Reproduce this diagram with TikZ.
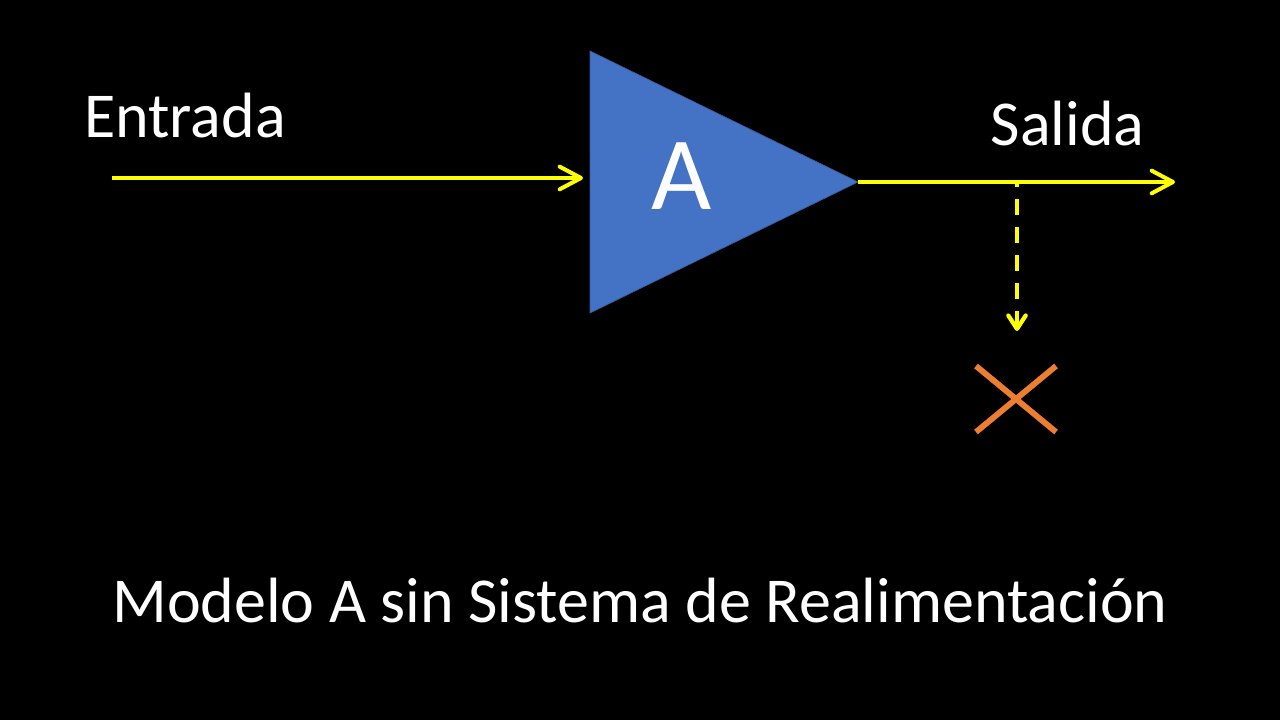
\documentclass[tikz,border=0pt]{standalone}
\usepackage{fontspec}
\setmainfont{Carlito}
\usetikzlibrary{calc}
\usetikzlibrary{arrows.meta}
\definecolor{ampblue}{RGB}{68,114,196}
\definecolor{crossorange}{RGB}{237,125,49}
\definecolor{signalyellow}{RGB}{255,255,0}
\tikzset{
  signal/.style={signalyellow, line width=3pt, -{Straight Barb[length=16pt, width=17pt, line width=3pt, round]}},
  tapped/.style={signalyellow, line width=3pt, dash pattern=on 12pt off 9pt, dash phase=8pt, -{Straight Barb[length=10pt, width=13pt, line width=3.2pt, round]}},
  lbl/.style={white, inner sep=0pt},
}
\begin{document}
\begin{tikzpicture}[x=.75pt, y=-.75pt]
\fill[black] (0,0) rectangle (1280,720);
\useasboundingbox (0,0) rectangle (1280,720);

\coordinate (top) at (590,51);
\coordinate (bot) at (590,313);
\coordinate (tip) at (858,182);
\filldraw[fill=ampblue, draw=ampblue!80!black, line width=.5pt] (top)--(tip)--(bot)--cycle;

\coordinate (inA) at (112,178);
\coordinate (inB) at (583,178);
\coordinate (outB) at (1175,182);
\coordinate (tap) at (1017,182);
\coordinate (tapB) at (1017,331);

\draw[signal] (inA)--(inB);
\draw[signal] (tip)--(outB);
\draw[tapped] (tap)--(tapB);

\coordinate (c1) at (976,366);
\coordinate (c2) at (1056,432);
\coordinate (c3) at (1056,366);
\coordinate (c4) at (976,432);
\draw[crossorange, line width=4.4pt] (c1)--(c2);
\draw[crossorange, line width=4.4pt] (c3)--(c4);

\node[lbl, font=\fontsize{48}{48}\selectfont] (entrada) at (185,115.5) {Entrada};
\node[lbl, font=\fontsize{48}{48}\selectfont] (salida) at (1067.5,123.5) {Salida};
\node[lbl, font=\fontsize{78}{78}\selectfont] (amp) at (681.5,176) {A};
\node[lbl, font=\fontsize{48}{48}\selectfont] (title) at (640,600.5) {Modelo A sin Sistema de Realimentación};

\end{tikzpicture}
\end{document}
